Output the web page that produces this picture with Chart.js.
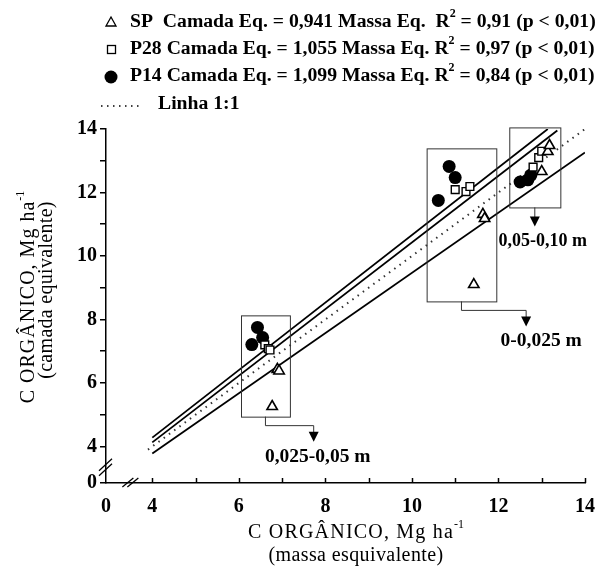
<!DOCTYPE html>
<html>
<head>
<meta charset="utf-8">
<script src="https://cdn.jsdelivr.net/npm/chart.js@4.4.0/dist/chart.umd.min.js"></script>
<style>
  html, body { margin: 0; padding: 0; background: #fff; }
</style>
</head>
<body>
<canvas id="chart" width="607" height="568"></canvas>
<script>
// values
const spX  = [6.89, 6.77, 6.93, 11.64, 11.68, 11.43, 13.0, 13.14, 13.18];
const spY  = [6.43, 5.26, 6.38, 11.31, 11.18, 9.10, 12.66, 13.29, 13.48];
const p28X = [6.6, 6.68, 6.72, 11.0, 11.25, 11.34, 12.8, 12.93, 13.0];
const p28Y = [7.2, 7.08, 7.04, 12.09, 12.03, 12.19, 12.8, 13.1, 13.3];
const p14X = [6.43, 6.55, 6.3, 10.86, 11.0, 10.61, 12.5, 12.68, 12.75];
const p14Y = [7.75, 7.43, 7.21, 12.82, 12.47, 11.75, 12.33, 12.4, 12.55];

// fitted lines as drawn (start / end)
const fitTopX = [4, 13.14], fitTopY = [4.28, 14];
const fitMidX = [4, 13.36], fitMidY = [4.13, 13.95];
const fitLowX = [4, 14],    fitLowY = [3.78, 13.26];
const oneToOneX = [3.9, 14], oneToOneY = [3.9, 14];

const xTicks = [4, 5, 6, 7, 8, 9, 10, 11, 12, 13, 14];
const yTicks = [4, 5, 6, 7, 8, 9, 10, 11, 12, 13, 14];
const X_MIN = 2.93, Y_MIN = 2.85;

// layer boxes: [xmin, xmax, ymin, ymax], arrow target x, label
const layerBoxes = [[6.05, 7.18, 4.94, 8.13], [10.34, 11.95, 8.57, 13.39], [12.25, 13.43, 11.53, 14.05]];
const layerArrowX = [7.73, 12.64, null];
const layerLabels = ["0,025-0,05 m", "0-0,025 m", "0,05-0,10 m"];

const legendRows = [
  ["SP  Camada Eq. = 0,941 Massa Eq.  R", "2", " = 0,91 (p < 0,01)"],
  ["P28 Camada Eq. = 1,055 Massa Eq. R", "2", " = 0,97 (p < 0,01)"],
  ["P14 Camada Eq. = 1,099 Massa Eq. R", "2", " = 0,84 (p < 0,01)"],
  ["Linha 1:1"]
];
const axisTitle = ["C ORGÂNICO, Mg ha", "-1"];

const pts = (xs, ys) => xs.map((x, i) => ({ x: x, y: ys[i] }));
const SERIF = '"Liberation Serif", "Times New Roman", serif';

// draws text parts, odd parts as superscript; returns total width
function drawParts(ctx, x, y, parts, size, bold, spacing, measureOnly) {
  const w = bold ? 'bold ' : '';
  const x0 = x;
  parts.forEach((p, i) => {
    const sup = i % 2 === 1;
    ctx.font = w + (sup ? Math.round(size * 0.6) : size) + 'px ' + SERIF;
    ctx.letterSpacing = (sup ? 0 : spacing || 0) + 'px';
    if (!measureOnly) ctx.fillText(p, x, sup ? y - size * 0.42 : y);
    x += ctx.measureText(p).width;
  });
  ctx.letterSpacing = '0px';
  return x - x0;
}

const decorPlugin = {
  id: 'decor',
  afterDraw(chart) {
    const ctx = chart.ctx;
    const xs = chart.scales.x, ys = chart.scales.y;
    const area = chart.chartArea;
    ctx.save();
    ctx.fillStyle = '#000';
    ctx.strokeStyle = '#000';

    // inner ticks on the x axis
    ctx.lineWidth = 1.5;
    xTicks.forEach(v => {
      const px = Math.round(xs.getPixelForValue(v)) + 0.5;
      ctx.beginPath();
      ctx.moveTo(px, area.bottom);
      ctx.lineTo(px, area.bottom - 5);
      ctx.stroke();
    });

    // axis breaks
    ctx.lineWidth = 1.3;
    const yb = ys.getPixelForValue(3.3);
    [0, 5].forEach(o => {
      ctx.beginPath();
      ctx.moveTo(area.left - 7, yb + 7 - o);
      ctx.lineTo(area.left + 6, yb - 5 - o);
      ctx.stroke();
    });
    const xb = xs.getPixelForValue(3.47);
    [0, 5].forEach(o => {
      ctx.beginPath();
      ctx.moveTo(xb - 7 + o, area.bottom + 4);
      ctx.lineTo(xb + 4 + o, area.bottom - 5);
      ctx.stroke();
    });

    // layer boxes with arrows and labels
    ctx.strokeStyle = '#333';
    ctx.lineWidth = 1;
    const labelShift = [4, 15, 8];
    const labelSize = [19.5, 19.5, 18];
    layerBoxes.forEach((b, i) => {
      const l = xs.getPixelForValue(b[0]), r = xs.getPixelForValue(b[1]);
      const t = ys.getPixelForValue(b[3]), bt = ys.getPixelForValue(b[2]);
      ctx.strokeRect(l + 0.5, t + 0.5, r - l, bt - t);
      const cx = (l + r) / 2;
      let ax = cx, tip;
      ctx.beginPath();
      ctx.moveTo(cx, bt);
      if (layerArrowX[i] !== null) {
        ax = xs.getPixelForValue(layerArrowX[i]);
        ctx.lineTo(cx, bt + 9);
        ctx.lineTo(ax, bt + 9);
        tip = bt + 25;
      } else {
        tip = bt + 19;
      }
      ctx.lineTo(ax, tip - 8);
      ctx.stroke();
      ctx.beginPath();
      ctx.moveTo(ax - 5, tip - 10);
      ctx.lineTo(ax + 5, tip - 10);
      ctx.lineTo(ax, tip);
      ctx.closePath();
      ctx.fill();
      ctx.font = 'bold ' + labelSize[i] + 'px ' + SERIF;
      ctx.textAlign = 'center';
      ctx.textBaseline = 'middle';
      ctx.fillText(layerLabels[i], ax + labelShift[i], tip + 15);
    });

    // legend
    ctx.textAlign = 'left';
    ctx.textBaseline = 'middle';
    const rowY = [22, 49, 76, 104];
    legendRows.forEach((row, i) => {
      const y = rowY[i];
      ctx.lineWidth = 1.3;
      ctx.strokeStyle = '#000';
      if (i === 0) {
        ctx.beginPath();
        ctx.moveTo(111, y - 5); ctx.lineTo(116, y + 4); ctx.lineTo(106, y + 4); ctx.closePath();
        ctx.stroke();
      } else if (i === 1) {
        ctx.strokeRect(107.5, y - 3.5, 8, 8);
      } else if (i === 2) {
        ctx.beginPath(); ctx.arc(111, y + 1, 6.5, 0, Math.PI * 2); ctx.fill();
      } else {
        ctx.setLineDash([1.5, 4.5]);
        ctx.beginPath(); ctx.moveTo(101, y + 2); ctx.lineTo(142, y + 2); ctx.stroke();
        ctx.setLineDash([]);
      }
      drawParts(ctx, i === 3 ? 158 : 130, y, row, 19.7, true, 0);
    });

    // x axis title
    let w = drawParts(ctx, 0, 0, axisTitle, 20, false, 1.2, true);
    drawParts(ctx, 356 - w / 2, 533, axisTitle, 20, false, 1.2);
    ctx.font = '20px ' + SERIF;
    ctx.letterSpacing = '0.4px';
    w = ctx.measureText("(massa esquivalente)").width;
    ctx.fillText("(massa esquivalente)", 356 - w / 2, 556);
    ctx.letterSpacing = '0px';

    // y axis title
    ctx.translate(0, 294);
    ctx.rotate(-Math.PI / 2);
    w = drawParts(ctx, 0, 0, axisTitle, 20, false, 1.0, true);
    drawParts(ctx, -w / 2 - 3, 29, axisTitle, 20, false, 1.0);
    ctx.font = '20px ' + SERIF;
    ctx.letterSpacing = '0.3px';
    w = ctx.measureText("(camada equivalente)").width;
    ctx.fillText("(camada equivalente)", -w / 2 + 4, 47);
    ctx.letterSpacing = '0px';
    ctx.restore();
  }
};

const lineStyle = { showLine: true, pointRadius: 0, borderColor: '#000', borderWidth: 1.8, fill: false, order: 10 };

new Chart(document.getElementById('chart').getContext('2d'), {
  type: 'scatter',
  data: {
    datasets: [
      Object.assign({ label: 'top', data: pts(fitTopX, fitTopY) }, lineStyle),
      Object.assign({ label: 'mid', data: pts(fitMidX, fitMidY) }, lineStyle),
      Object.assign({ label: 'low', data: pts(fitLowX, fitLowY) }, lineStyle),
      Object.assign({ label: 'Linha 1:1', data: pts(oneToOneX, oneToOneY) }, lineStyle,
        { borderDash: [1.5, 5], borderWidth: 2, borderColor: '#333' }),
      {
        label: 'P14', data: pts(p14X, p14Y), pointStyle: 'circle', pointRadius: 6.5,
        backgroundColor: '#000', borderColor: '#000', borderWidth: 0, order: 3
      },
      {
        label: 'P28', data: pts(p28X, p28Y), pointStyle: 'rect', pointRadius: 5.5,
        backgroundColor: '#fff', borderColor: '#000', borderWidth: 1.4, order: 2
      },
      {
        label: 'SP', data: pts(spX, spY), pointStyle: 'triangle', pointRadius: 6,
        backgroundColor: '#fff', borderColor: '#000', borderWidth: 1.6, order: 1
      }
    ]
  },
  options: {
    responsive: false,
    animation: false,
    layout: { padding: { top: 129, right: 14, left: 0, bottom: 0 } },
    plugins: { legend: { display: false }, tooltip: { enabled: false } },
    scales: {
      x: {
        type: 'linear', min: X_MIN, max: 14,
        afterFit(s) { s.height = 85; },
        afterBuildTicks(s) { s.ticks = [X_MIN].concat(xTicks).map(v => ({ value: v })); },
        ticks: {
          autoSkip: false, maxRotation: 0, padding: 12, color: '#000',
          font: { family: SERIF, size: 20, weight: 'bold' },
          callback: v => (v === X_MIN ? '0' : (v % 2 === 0 ? String(v) : ''))
        },
        grid: { drawOnChartArea: false, drawTicks: false },
        border: { color: '#000', width: 1.5 }
      },
      y: {
        type: 'linear', min: Y_MIN, max: 14,
        afterFit(s) { s.width = 106; },
        afterBuildTicks(s) { s.ticks = [Y_MIN].concat(yTicks).map(v => ({ value: v })); },
        ticks: {
          autoSkip: false, padding: 3, color: '#000',
          font: { family: SERIF, size: 20, weight: 'bold' },
          callback: v => (v === Y_MIN ? '0' : (v % 2 === 0 ? String(v) : ''))
        },
        grid: { drawOnChartArea: false, drawTicks: true, tickLength: 6, color: '#000', lineWidth: 1.5 },
        border: { color: '#000', width: 1.5 }
      }
    }
  },
  plugins: [decorPlugin]
});
</script>
</body>
</html>
